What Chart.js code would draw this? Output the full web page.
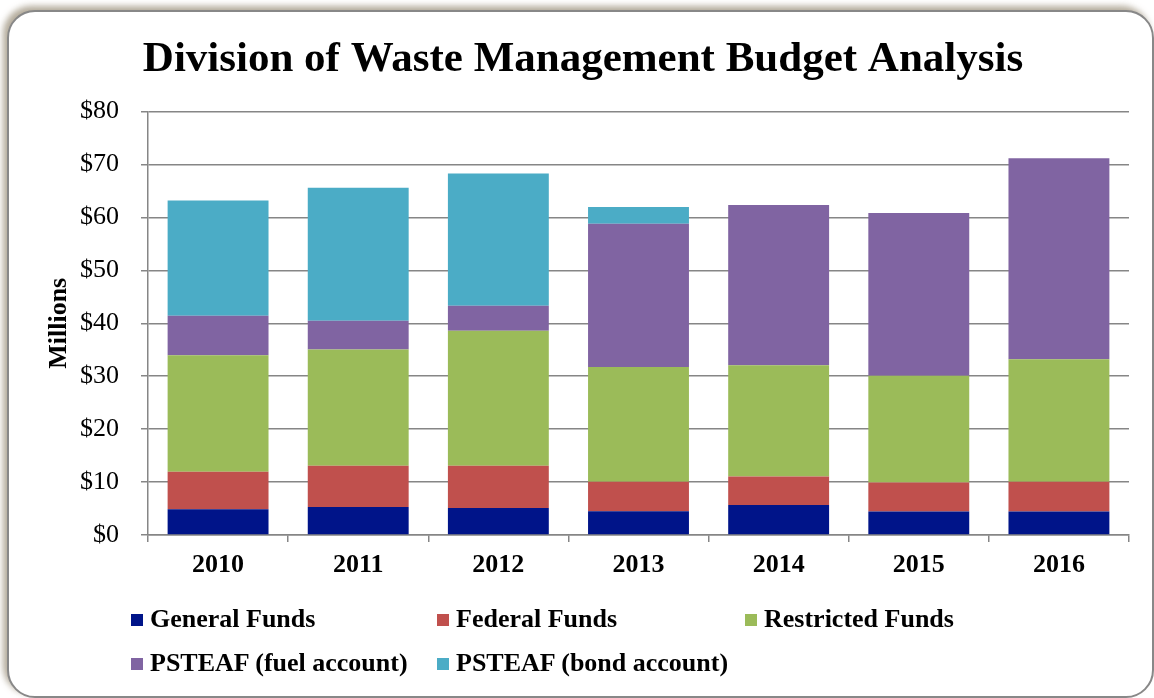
<!DOCTYPE html>
<html>
<head>
<meta charset="utf-8">
<script src="https://cdn.jsdelivr.net/npm/chart.js@4"></script>
<style>
  body { margin: 0; background: #fff; width: 1154px; height: 698px; overflow: hidden; position: relative; }
  #frame {
    position: absolute; left: 7px; top: 10px; width: 1143px; height: 684px;
    border: 2px solid #888; border-radius: 28px;
    box-shadow: -4px -4px 6px rgba(160, 150, 130, 0.8);
    background: #fff;
  }
  #wrap { position: absolute; left: 0; top: 0; width: 1154px; height: 698px; }
  .legend-item {
    position: absolute; font-family: "Liberation Serif", "Times New Roman", serif;
    font-weight: bold; font-size: 26px; line-height: 30px; color: #000; white-space: nowrap;
  }
  .legend-item span.box {
    display: inline-block; width: 12px; height: 12px; margin-right: 7px; vertical-align: 1px;
  }
</style>
</head>
<body>
<div id="frame"></div>
<div id="wrap"><canvas id="budgetChart"></canvas></div>
<div id="legend"></div>
<script>
const years = ["2010", "2011", "2012", "2013", "2014", "2015", "2016"];
const generalFunds    = [4.87, 5.31, 5.12, 4.49, 5.69, 4.42, 4.42];
const federalFunds    = [7.08, 7.78, 7.97, 5.56, 5.37, 5.50, 5.63];
const restrictedFunds = [22.01, 21.95, 25.48, 21.69, 21.00, 20.19, 23.15];
const fuelAccount     = [7.46, 5.43, 4.74, 27.07, 30.30, 30.73, 38.00];
const bondAccount     = [21.76, 25.12, 24.99, 3.17, 0, 0, 0];
const yTicks = ["$0", "$10", "$20", "$30", "$40", "$50", "$60", "$70", "$80"];

const series = [
  { label: "General Funds", data: generalFunds, color: "#001489" },
  { label: "Federal Funds", data: federalFunds, color: "#C0504D" },
  { label: "Restricted Funds", data: restrictedFunds, color: "#9BBB59" },
  { label: "PSTEAF (fuel account)", data: fuelAccount, color: "#8064A2" },
  { label: "PSTEAF (bond account)", data: bondAccount, color: "#4BACC6" }
];

const serif = "'Liberation Serif', 'Times New Roman', serif";
const gridColor = "#868686";

const ctx = document.getElementById("budgetChart").getContext("2d");
new Chart(ctx, {
  type: "bar",
  data: {
    labels: years,
    datasets: series.map(s => ({
      label: s.label,
      data: s.data,
      backgroundColor: s.color,
      borderWidth: 0,
      barPercentage: 0.72,
      categoryPercentage: 1
    }))
  },
  options: {
    responsive: true,
    maintainAspectRatio: false,
    animation: false,
    layout: { padding: { left: 37, right: 25, top: 0, bottom: 118 } },
    plugins: {
      legend: { display: false },
      tooltip: { enabled: false },
      title: {
        display: true,
        text: "Division of Waste Management Budget Analysis",
        color: "#000",
        font: { family: serif, size: 43, weight: "bold" },
        padding: { top: 34, bottom: 26 }
      }
    },
    scales: {
      x: {
        stacked: true,
        offset: true,
        grid: { display: true, drawOnChartArea: false, drawTicks: true, tickLength: 7, color: gridColor, lineWidth: 1.5, offset: true },
        border: { display: true, color: gridColor, width: 1.5 },
        ticks: { color: "#000", padding: 8, font: { family: serif, size: 26, weight: "bold" } },
        afterFit: scale => { scale.height = 45; }
      },
      y: {
        stacked: true,
        min: 0,
        max: 80,
        grid: { color: gridColor, lineWidth: 1.5, tickLength: 7 },
        border: { display: true, color: gridColor, width: 1.5 },
        ticks: {
          stepSize: 10,
          color: "#000",
          padding: 22,
          font: { family: serif, size: 26 },
          callback: (v, i) => yTicks[i]
        },
        title: {
          display: true,
          text: "Millions",
          color: "#000",
          font: { family: serif, size: 26, weight: "bold" },
          padding: { top: 7, bottom: 0 }
        },
        afterFit: scale => { scale.width = 111; }
      }
    }
  }
});

// legend laid out in fixed columns like the original
const legendCols = [131, 437, 745];
const legendRows = [604, 648];
const legend = document.getElementById("legend");
series.forEach((s, i) => {
  const item = document.createElement("div");
  item.className = "legend-item";
  item.style.left = legendCols[i % 3] + "px";
  item.style.top = legendRows[Math.floor(i / 3)] + "px";
  item.innerHTML = '<span class="box" style="background:' + s.color + '"></span>' + s.label;
  legend.appendChild(item);
});
</script>
</body>
</html>
